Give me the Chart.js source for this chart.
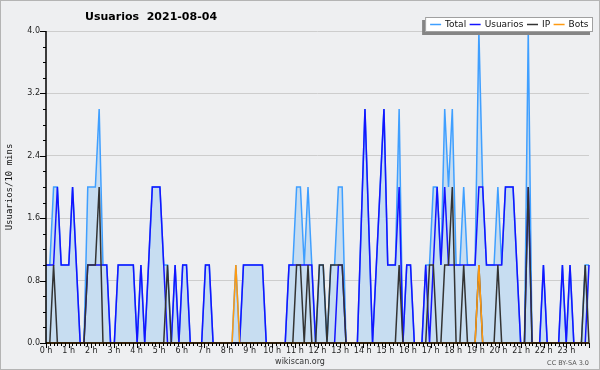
<!DOCTYPE html>
<html>
<head>
<meta charset="utf-8">
<title>Usuarios 2021-08-04</title>
<script src="https://cdn.jsdelivr.net/npm/chart.js@4.4.0/dist/chart.umd.min.js"></script>
<style>
  html, body { margin: 0; padding: 0; background: #eeeff1; }
  canvas { display: block; }
</style>
</head>
<body>
<canvas id="chart" width="600" height="370"></canvas>
<script>
const chartTitle = "Usuarios  2021-08-04";
const yTitle = "Usuarios/10 mins";
const footerLeft = "wikiscan.org";
const footerRight = "CC BY-SA 3.0";

const hourLabels = ["0 h", "1 h", "2 h", "3 h", "4 h", "5 h", "6 h", "7 h", "8 h", "9 h", "10 h", "11 h",
    "12 h", "13 h", "14 h", "15 h", "16 h", "17 h", "18 h", "19 h", "20 h", "21 h", "22 h", "23 h"];

// one value per 10 minutes, 0:00 -> 23:50
const total = [
    1, 1, 2, 2, 1, 1, 1, 2, 1, 0, 0, 2,
    2, 2, 3, 1, 1, 0, 0, 1, 1, 1, 1, 1,
    0, 1, 0, 1, 2, 2, 2, 1, 1, 0, 1, 0,
    1, 1, 0, 0, 0, 0, 1, 1, 0, 0, 0, 0,
    0, 0, 1, 0, 1, 1, 1, 1, 1, 1, 0, 0,
    0, 0, 0, 0, 1, 1, 2, 2, 1, 2, 1, 0,
    1, 1, 0, 1, 1, 2, 2, 0, 0, 0, 0, 1.5,
    3, 1.5, 0, 1, 2, 3, 1, 1, 1, 3, 0, 1,
    1, 0, 0, 0, 1, 1, 2, 2, 1, 3, 2, 3,
    1, 1, 2, 1, 1, 1, 4, 2, 1, 1, 1, 2,
    1, 2, 2, 2, 1, 0, 0, 4, 0, 0, 0, 1,
    0, 0, 0, 0, 1, 0, 1, 0, 0, 0, 1, 1
];
const usuarios = [
    1, 1, 1, 2, 1, 1, 1, 2, 1, 0, 0, 1,
    1, 1, 1, 1, 1, 0, 0, 1, 1, 1, 1, 1,
    0, 1, 0, 1, 2, 2, 2, 1, 0, 0, 1, 0,
    1, 1, 0, 0, 0, 0, 1, 1, 0, 0, 0, 0,
    0, 0, 0, 0, 1, 1, 1, 1, 1, 1, 0, 0,
    0, 0, 0, 0, 1, 1, 1, 1, 1, 1, 1, 0,
    0, 0, 0, 0, 0, 1, 1, 0, 0, 0, 0, 1.5,
    3, 1.5, 0, 1, 2, 3, 1, 1, 1, 2, 0, 1,
    1, 0, 0, 0, 1, 0, 1, 2, 1, 2, 1, 1,
    1, 1, 1, 1, 1, 1, 2, 2, 1, 1, 1, 1,
    1, 2, 2, 2, 1, 0, 0, 2, 0, 0, 0, 1,
    0, 0, 0, 0, 1, 0, 1, 0, 0, 0, 0, 1
];
const ip = [
    0, 0, 1, 0, 0, 0, 0, 0, 0, 0, 0, 1,
    1, 1, 2, 0, 0, 0, 0, 0, 0, 0, 0, 0,
    0, 0, 0, 0, 0, 0, 0, 0, 1, 0, 0, 0,
    0, 0, 0, 0, 0, 0, 0, 0, 0, 0, 0, 0,
    0, 0, 0, 0, 0, 0, 0, 0, 0, 0, 0, 0,
    0, 0, 0, 0, 0, 0, 1, 1, 0, 1, 0, 0,
    1, 1, 0, 1, 1, 1, 1, 0, 0, 0, 0, 0,
    0, 0, 0, 0, 0, 0, 0, 0, 0, 1, 0, 0,
    0, 0, 0, 0, 0, 1, 1, 0, 0, 1, 1, 2,
    0, 0, 1, 0, 0, 0, 1, 0, 0, 0, 0, 1,
    0, 0, 0, 0, 0, 0, 0, 2, 0, 0, 0, 0,
    0, 0, 0, 0, 0, 0, 0, 0, 0, 0, 1, 0
];
const bots = [
    0, 0, 0, 0, 0, 0, 0, 0, 0, 0, 0, 0,
    0, 0, 0, 0, 0, 0, 0, 0, 0, 0, 0, 0,
    0, 0, 0, 0, 0, 0, 0, 0, 0, 0, 0, 0,
    0, 0, 0, 0, 0, 0, 0, 0, 0, 0, 0, 0,
    0, 0, 1, 0, 0, 0, 0, 0, 0, 0, 0, 0,
    0, 0, 0, 0, 0, 0, 0, 0, 0, 0, 0, 0,
    0, 0, 0, 0, 0, 0, 0, 0, 0, 0, 0, 0,
    0, 0, 0, 0, 0, 0, 0, 0, 0, 0, 0, 0,
    0, 0, 0, 0, 0, 0, 0, 0, 0, 0, 0, 0,
    0, 0, 0, 0, 0, 0, 1, 0, 0, 0, 0, 0,
    0, 0, 0, 0, 0, 0, 0, 0, 0, 0, 0, 0,
    0, 0, 0, 0, 0, 0, 0, 0, 0, 0, 0, 0
];

const slots = [];
for (let h = 0; h < 24; h++) {
    for (let m = 0; m < 60; m += 10) slots.push(h + ":" + String(m).padStart(2, "0"));
}

const FONT = "'DejaVu Sans', Verdana, sans-serif";

// background, tick marks, axes, title, legend box, footer
const decor = {
    id: "decor",
    beforeDraw(chart) {
        const ctx = chart.ctx;
        ctx.save();
        ctx.fillStyle = "#eeeff1";
        ctx.fillRect(0, 0, chart.width, chart.height);
        ctx.strokeStyle = "#b4b4b4";
        ctx.lineWidth = 1;
        ctx.strokeRect(0.5, 0.5, chart.width - 1, chart.height - 1);
        ctx.restore();
    },
    afterDraw(chart) {
        const { ctx, chartArea: a, scales } = chart;
        const y = scales.y, xh = scales.xh;
        ctx.save();

        ctx.strokeStyle = "#000";
        ctx.lineWidth = 1;
        for (let k = 0; k <= 20; k++) {
            const py = Math.round(y.getPixelForValue(k * 0.2)) + 0.5;
            const len = k % 4 === 0 ? 6 : 3;
            ctx.beginPath();
            ctx.moveTo(a.left - len, py);
            ctx.lineTo(a.left, py);
            ctx.stroke();
        }
        for (let k = 0; k <= 144; k++) {
            const px = Math.round(xh.getPixelForValue(k / 6)) + 0.5;
            const len = k % 6 === 0 ? 5 : 3;
            ctx.beginPath();
            ctx.moveTo(px, a.bottom);
            ctx.lineTo(px, a.bottom + len);
            ctx.stroke();
        }

        ctx.lineWidth = 1.5;
        ctx.beginPath();
        ctx.moveTo(a.left, a.top);
        ctx.lineTo(a.left, a.bottom);
        ctx.lineTo(a.right, a.bottom);
        ctx.stroke();

        // title
        ctx.fillStyle = "#000";
        ctx.font = "bold 11px " + FONT;
        ctx.textAlign = "left";
        ctx.textBaseline = "middle";
        ctx.fillText(chartTitle, 85, 17);

        // legend
        ctx.font = "9px " + FONT;
        const items = chart.data.datasets.map(d => ({ label: d.label, color: d.borderColor }));
        let w = 0;
        items.forEach(it => { w += 11 + 4 + ctx.measureText(it.label).width + 3.5; });
        const boxW = w + 6, boxH = 15, boxRight = 593, boxTop = 17;
        const boxLeft = boxRight - boxW;
        ctx.fillStyle = "#858585";
        ctx.fillRect(boxLeft - 3, boxTop + 3, boxW, boxH);
        ctx.fillStyle = "#fff";
        ctx.fillRect(boxLeft, boxTop, boxW, boxH);
        ctx.strokeStyle = "#a0a0a0";
        ctx.lineWidth = 1;
        ctx.strokeRect(boxLeft + 0.5, boxTop + 0.5, boxW - 1, boxH - 1);
        let x = boxLeft + 5;
        const ly = boxTop + boxH / 2;
        items.forEach(it => {
            ctx.strokeStyle = it.color;
            ctx.lineWidth = 1.5;
            ctx.beginPath();
            ctx.moveTo(x, ly);
            ctx.lineTo(x + 11, ly);
            ctx.stroke();
            x += 15;
            ctx.fillStyle = "#111";
            ctx.fillText(it.label, x, ly + 0.5);
            x += ctx.measureText(it.label).width + 3.5;
        });

        // footer
        ctx.fillStyle = "#333";
        ctx.font = "8px " + FONT;
        ctx.textAlign = "center";
        ctx.fillText(footerLeft, 300, 362);
        ctx.fillStyle = "#555";
        ctx.font = "6.5px " + FONT;
        ctx.textAlign = "right";
        ctx.fillText(footerRight, 589, 363);

        ctx.restore();
    }
};

const line = (label, data, color, order, extra) => Object.assign({
    label, data, order,
    borderColor: color,
    borderWidth: 1.5,
    pointRadius: 0,
    tension: 0,
    fill: false,
    clip: 4
}, extra || {});

new Chart(document.getElementById("chart"), {
    type: "line",
    data: {
        labels: slots,
        datasets: [
            line("Total", total, "#3f9fff", 4, { fill: "origin", backgroundColor: "#c7ddf1" }),
            line("Usuarios", usuarios, "#1414ff", 3),
            line("IP", ip, "#333333", 2),
            line("Bots", bots, "#ff9a10", 1)
        ]
    },
    options: {
        responsive: false,
        devicePixelRatio: 1,
        animation: false,
        layout: { padding: { top: 31, right: 11, bottom: 0, left: 0 } },
        plugins: {
            legend: { display: false },
            tooltip: { enabled: false }
        },
        scales: {
            x: { type: "category", display: false },
            xh: {
                type: "linear",
                position: "bottom",
                min: 0,
                max: 24,
                afterFit: s => { s.height = 27; },
                grid: { display: true, drawOnChartArea: false, drawTicks: false },
                border: { display: false },
                ticks: {
                    stepSize: 1,
                    autoSkip: false,
                    maxRotation: 0,
                    padding: 3,
                    color: "#222",
                    font: { family: FONT, size: 8 },
                    callback: v => hourLabels[v] || ""
                }
            },
            y: {
                min: 0,
                max: 4,
                afterFit: s => { s.width = 46; },
                grid: { color: "#cdcdcd", drawTicks: false },
                border: { display: false },
                ticks: {
                    stepSize: 0.8,
                    padding: 6,
                    color: "#222",
                    font: { family: FONT, size: 8 },
                    callback: v => v.toFixed(1)
                },
                title: {
                    display: true,
                    text: yTitle,
                    color: "#111",
                    font: { family: "'DejaVu Sans Mono', monospace", size: 9 },
                    padding: { top: 4.5, bottom: 0 }
                }
            }
        }
    },
    plugins: [decor]
});
</script>
</body>
</html>
